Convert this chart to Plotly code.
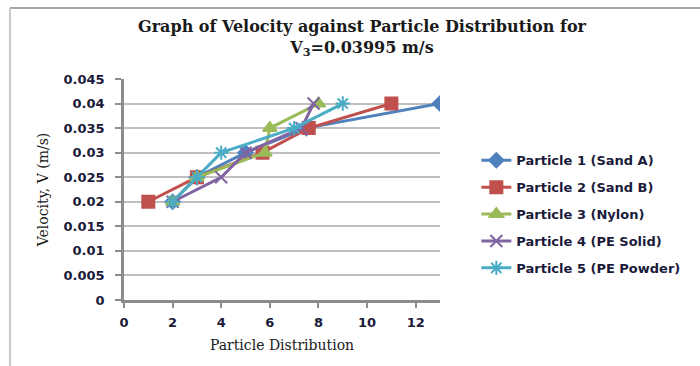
import plotly.graph_objects as go

names = ["Particle 1 (Sand A)", "Particle 2 (Sand B)", "Particle 3 (Nylon)",
         "Particle 4 (PE Solid)", "Particle 5 (PE Powder)"]
x1 = [2, 3, 5, 7.5, 13]
y1 = [0.02, 0.025, 0.03, 0.035, 0.04]
x2 = [1, 3, 5.7, 7.6, 11]
y2 = [0.02, 0.025, 0.03, 0.035, 0.04]
x3 = [2, 3, 5.8, 6, 8]
y3 = [0.02, 0.025, 0.03, 0.035, 0.04]
x4 = [2, 4, 5, 7.3, 7.8]
y4 = [0.02, 0.025, 0.03, 0.035, 0.04]
x5 = [2, 3, 4, 7, 9]
y5 = [0.02, 0.025, 0.03, 0.035, 0.04]
xs = [x1, x2, x3, x4, x5]
ys = [y1, y2, y3, y4, y5]

colors = ["#4F81BD", "#C0504D", "#9BBB59", "#8064A2", "#4BACC6"]
symbols = ["diamond", "square", "triangle-up", "x-thin-open", "asterisk-open"]
msizes = [11, 12, 12, 12, 12]

ytickvals = [0, 0.005, 0.01, 0.015, 0.02, 0.025, 0.03, 0.035, 0.04, 0.045]
yticktext = ["0", "0.005", "0.01", "0.015", "0.02", "0.025", "0.03", "0.035", "0.04", "0.045"]
xtickvals = [0, 2, 4, 6, 8, 10, 12]

fig = go.Figure()
for i in range(5):
    fig.add_trace(go.Scatter(
        x=xs[i], y=ys[i], name=names[i], mode="lines+markers",
        legendgroup=str(i),
        line=dict(color=colors[i], width=3),
        marker=dict(symbol=symbols[i], size=msizes[i], color=colors[i],
                    line=dict(color=colors[i], width=2)),
    ))

tickfont = dict(family="DejaVu Sans", size=13, color="#1a1a3a", weight="bold")
titlefont = dict(family="DejaVu Serif", size=14, color="#1a1a1a")
fig.update_layout(
    width=700, height=366,
    margin=dict(l=124, r=260, t=79, b=66),
    paper_bgcolor="white", plot_bgcolor="white",
    showlegend=True,
    legend=dict(x=1.115, xanchor="left", y=0.70, yanchor="top",
                font=dict(family="DejaVu Sans", size=13, color="#1a1a3a", weight="bold"),
                tracegroupgap=7, bgcolor="rgba(0,0,0,0)"),
    xaxis=dict(range=[0, 13], tickvals=xtickvals, showgrid=False, zeroline=False,
               showline=True, linecolor="#8c8c8c", linewidth=2.5,
               ticks="outside", ticklen=5, tickcolor="#8c8c8c", tickwidth=1.5,
               ticklabelstandoff=4,
               tickfont=tickfont,
               title=dict(text="Particle Distribution", standoff=11, font=titlefont)),
    yaxis=dict(range=[0, 0.045], tickvals=ytickvals, ticktext=yticktext,
               showgrid=True, gridcolor="#bfbfbf", gridwidth=1.5, zeroline=False,
               showline=True, linecolor="#8c8c8c", linewidth=2.5,
               ticks="outside", ticklen=6, tickcolor="#8c8c8c", tickwidth=1.5,
               ticklabelstandoff=8,
               tickfont=tickfont,
               title=dict(text="Velocity, V (m/s)", standoff=12, font=titlefont)),
)
fig.add_annotation(text="<b>Graph of Velocity against Particle Distribution for<br>V<sub>3</sub>=0.03995 m/s</b>",
                   xref="paper", yref="paper", x=(362 - 124) / 316, y=1 + (79 - 38) / 221,
                   xanchor="center", yanchor="middle", showarrow=False,
                   font=dict(family="DejaVu Serif", size=16, color="#1a1a1a"))
# outer chart frame (top and left edges)
fig.add_shape(type="line", xref="paper", yref="paper",
              x0=(10 - 124) / 316, x1=(700 - 124) / 316, y0=1 + (79 - 8) / 221, y1=1 + (79 - 8) / 221,
              line=dict(color="#a6a6a6", width=2))
fig.add_shape(type="line", xref="paper", yref="paper",
              x0=(10 - 124) / 316, x1=(10 - 124) / 316, y0=1 + (79 - 8) / 221, y1=-(366 - 300) / 221,
              line=dict(color="#c8c8c8", width=2))

fig.write_html("out.html")
